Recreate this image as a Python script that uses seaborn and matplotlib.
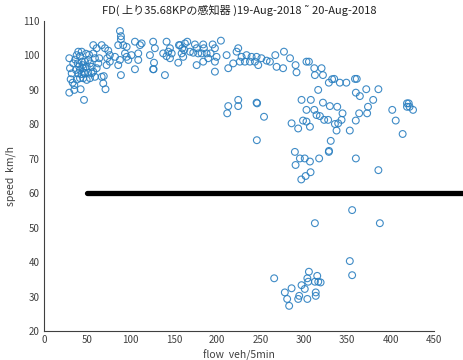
import numpy as np
import pandas as pd
import matplotlib
matplotlib.use("Agg")
import matplotlib.pyplot as plt
import seaborn as sns

# ---- detector observations (flow veh/5min, speed km/h) ----
# free-flow cluster, low flow
free_low_flow = [29.2, 30, 29.2, 30.8, 33.1, 35, 39.6, 43.5, 37.7, 41.5, 33.8, 38.9, 43.5, 47.3,
                 51.1, 53.1, 36.9, 41.5, 45.3, 49.3, 55, 39.6, 43.5, 47.3, 51.1, 55, 41.5, 45.3,
                 49.3, 53.1, 58.8, 56.9, 60.8, 62.7, 63.8, 58.8, 66.6, 68.4, 71, 42.3, 46.2, 56.9,
                 60.8, 66.6, 70.4, 74.2, 73, 72.3, 40.5, 44.5, 46, 38, 36, 32, 48.5, 52, 57, 35, 69]
free_low_speed = [99.2, 96.3, 89.2, 93.1, 92.1, 91.4, 101.1, 101.1, 100.1, 99.8, 97.7, 97.7, 98.2, 98.2,
                  98.7, 97.7, 95.8, 95.8, 96.3, 96.7, 96.7, 94.8, 94.6, 94.8, 95, 94.8, 93.4, 93.4,
                  92.9, 93.4, 93.8, 95.3, 96.3, 97.7, 99.2, 99.2, 93.8, 91.9, 90.2, 90.2, 87.1, 103,
                  102.1, 103, 102.1, 101.4, 99.2, 97.2, 96.8, 97.2, 95, 93, 98.8, 94.8, 100.5, 100.2, 100.6, 90, 94]

# free-flow cluster, medium flow
free_mid_flow = [87.7, 88.8, 88.8, 85.7, 91.5, 95.4, 105, 110.8, 112.7, 126, 128, 141.5, 145.4, 143.5,
                 155.8, 159.6, 161.9, 76, 82, 87.7, 93.5, 95.4, 101, 97.3, 108.8, 108.8, 122.3, 137.6,
                 141.5, 147.4, 145.4, 158.9, 160.7, 76, 85.7, 105, 126, 126.5, 139.6, 155, 127, 88.8]
free_mid_speed = [107.1, 105.6, 104.7, 103, 103, 102.5, 104, 103, 103.5, 104, 102.1, 104, 102.1, 101.1,
                  103, 102.1, 101.6, 100.1, 99.6, 98.7, 100.6, 99.6, 100.1, 98.7, 100.6, 98.7, 100.1, 100.6,
                  99.8, 100.6, 99.2, 100.6, 99.6, 98.2, 97.2, 96, 96, 96, 94.3, 97.9, 97.9, 94.3]

# free-flow cluster, high flow
free_high_flow = [157, 162.7, 165.4, 174.2, 176.2, 183.8, 184.6, 194.7, 197.3, 204.2, 168.5, 172.3,
                  178, 182, 187.7, 192.3, 199.2, 176.2, 183.8, 189.6, 197.3, 197.3, 210.8, 212.7,
                  218.4, 222.3, 224.2, 228.1, 233.8, 239.6, 245.4, 226.1, 231.9, 237.7, 243.5, 247.3,
                  251, 257, 260.8, 267, 277, 284, 290.4, 291.5, 303, 305.8, 312, 320.4, 312.7, 322,
                  328.8, 332.6, 316.5, 268.5, 276]
free_high_speed = [103, 103.5, 104, 103.2, 102.1, 103.2, 102.1, 103.2, 102.1, 104.3, 101.1, 100.8,
                   100.6, 100.6, 100.6, 100.6, 99.6, 97.2, 98.2, 99.2, 98.2, 95.3, 100.1, 96.3,
                   97.7, 101.1, 102.1, 99.6, 100.1, 99.6, 99.6, 98.2, 98.2, 98.2, 98.2, 97.2,
                   99.2, 98.5, 98.2, 100.1, 101.1, 99.2, 97.2, 95.1, 98.2, 98.2, 96.3, 96.3, 94.3, 94.3,
                   92.1, 93.1, 90, 96.7, 96.3]

# transition zone
trans_flow = [212.7, 224.2, 224.2, 245.4, 246, 211.5, 297.3, 308, 322, 330, 254, 303, 312, 314.6,
              318.5, 323.4, 328, 285.8, 299, 303, 293.4, 307, 245.7,
              335, 341.5, 349, 359, 361, 360, 364.6, 372, 386, 338.5, 344.6, 343.5, 339.6, 335.8,
              337.7, 353, 359.9, 363.8, 373, 374, 380, 331, 329, 360, 386, 402, 406, 414, 419,
              421, 419, 422, 426,
              289.6, 295.4, 301, 307, 317.6, 328.8, 290.4, 297, 302, 307.7]
trans_speed = [85.3, 87.1, 85.3, 86.3, 86.1, 83.2, 87.1, 87.1, 86.3, 85.3, 82.2, 84.2, 84.2, 82.7,
               82.4, 81.3, 81.3, 80.3, 81.1, 80.8, 78.8, 79.3, 75.4,
               93.2, 92.1, 92.1, 93.2, 93.2, 89.2, 88.2, 90.2, 90.2, 85.1, 83.2, 81.3, 80.3, 80.1,
               78.2, 78.2, 81.1, 83.2, 83.2, 85.1, 87.1, 75.2, 72.3, 70.1, 66.7, 84.2, 81.1, 77.2, 86.1,
               86.1, 85.1, 85.1, 84.2,
               72, 70.1, 70.1, 69.2, 70.1, 72, 68.2, 64, 65, 66.1]

# congested observations
cong_flow = [355.7, 312.7, 387.7, 353, 355.7, 265.7, 305.8, 304, 305, 315.4, 312.7, 316.6, 319.3,
             285.8, 278, 297.3, 301, 313.7, 313.7, 294.6, 293.4, 280.7, 304, 283]
cong_speed = [55.1, 51.3, 51.3, 40.3, 36.2, 35.3, 37.2, 35.3, 34.3, 36, 34.3, 34.3, 34.1,
              32.4, 31.2, 33.3, 32.2, 31.2, 30.2, 30.2, 29.3, 29.3, 29.3, 27.3]

# speed threshold line
limit_flow = [50, 485]
limit_speed = [60, 60]

x_ticks = [0, 50, 100, 150, 200, 250, 300, 350, 400, 450]
y_ticks = [20, 30, 40, 50, 60, 70, 80, 90, 100, 110]

title_text = "FD( 上り35.68KPの感知器 )19-Aug-2018 ˜ 20-Aug-2018"
x_label = "flow  veh/5min"
y_label = "speed  km/h"

df = pd.DataFrame({
    "flow": free_low_flow + free_mid_flow + free_high_flow + trans_flow + cong_flow,
    "speed": free_low_speed + free_mid_speed + free_high_speed + trans_speed + cong_speed,
})
line_df = pd.DataFrame({"flow": limit_flow, "speed": limit_speed})

sns.set_style("white")
plt.rcParams["font.family"] = ["Noto Sans CJK JP", "DejaVu Sans"]

ink = "#404040"
fig = plt.figure(figsize=(4.63, 3.60), dpi=100)
ax = fig.add_axes([0.095, 0.0806, 0.842, 0.861])

sns.scatterplot(data=df, x="flow", y="speed", ax=ax, marker="o", s=24,
                facecolor="none", edgecolor="#2a7fc0", linewidth=0.8, alpha=0.9)
sns.lineplot(data=line_df, x="flow", y="speed", ax=ax, color="black", linewidth=3.8)
for ln in ax.get_lines():
    ln.set_clip_on(False)

ax.set_xlim(0, 450)
ax.set_ylim(20, 110)
ax.set_xticks(x_ticks)
ax.set_yticks(y_ticks)
ax.tick_params(direction="in", length=3.5, width=0.7, colors=ink, labelsize=7,
               labelcolor=ink, pad=3)
for side in ("top", "right"):
    ax.spines[side].set_visible(False)
for side in ("left", "bottom"):
    ax.spines[side].set_color(ink)
    ax.spines[side].set_linewidth(0.8)

ax.set_xlabel(x_label, fontsize=7.5, color=ink, labelpad=3)
ax.set_ylabel(y_label, fontsize=7.5, color=ink, labelpad=5)
ax.set_title(title_text, fontsize=8, color="#202020", pad=5)

fig.savefig("out.png", dpi=100)
